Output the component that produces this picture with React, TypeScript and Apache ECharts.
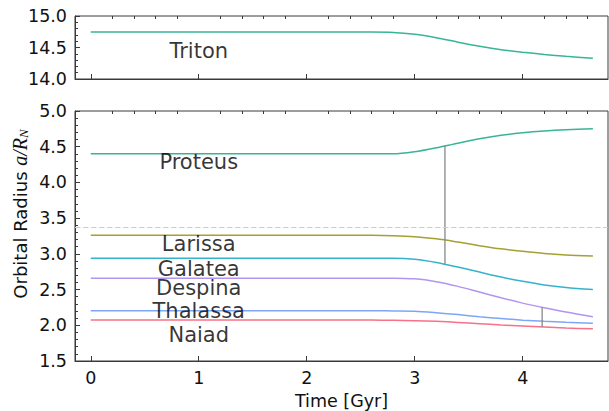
import React, { useEffect, useRef } from 'react';
import * as echarts from 'echarts';

const time = [0, 1, 2, 2.6, 2.8, 3.0, 3.2, 3.4, 3.6, 3.8, 4.0, 4.2, 4.4, 4.65];
const triton = [14.745, 14.745, 14.745, 14.745, 14.74, 14.71, 14.655, 14.585, 14.52, 14.465, 14.425, 14.39, 14.36, 14.33];
const proteus = [4.40, 4.40, 4.40, 4.40, 4.40, 4.43, 4.485, 4.55, 4.61, 4.66, 4.695, 4.72, 4.737, 4.75];
const larissa = [3.26, 3.26, 3.26, 3.26, 3.255, 3.24, 3.21, 3.165, 3.115, 3.07, 3.035, 3.005, 2.985, 2.97];
const galatea = [2.94, 2.94, 2.94, 2.94, 2.94, 2.925, 2.88, 2.815, 2.745, 2.675, 2.615, 2.565, 2.53, 2.50];
const despina = [2.66, 2.66, 2.66, 2.66, 2.66, 2.65, 2.61, 2.545, 2.465, 2.385, 2.31, 2.245, 2.185, 2.12];
const thalassa = [2.205, 2.205, 2.205, 2.205, 2.20, 2.195, 2.175, 2.15, 2.12, 2.095, 2.072, 2.055, 2.042, 2.03];
const naiad = [2.075, 2.075, 2.075, 2.075, 2.07, 2.065, 2.055, 2.04, 2.022, 2.005, 1.99, 1.975, 1.962, 1.95];

const innerMoons = ['Proteus', 'Larissa', 'Galatea', 'Despina', 'Thalassa', 'Naiad'];
const innerValues = [proteus, larissa, galatea, despina, thalassa, naiad];
const innerColors = ['#38b596', '#a4a031', '#37b2cc', '#b394f2', '#7ea6f7', '#f77189'];
const tritonColor = '#38b596';

const labelX = 1.0;
const innerLabelY = [4.29, 3.14, 2.79, 2.52, 2.198, 1.865];
const tritonLabelY = 14.44;

const resonanceA = { t: 3.28, from: 4.51, to: 2.852 };
const resonanceB = { t: 4.18, from: 2.251, to: 1.976 };
const dashedLevel = 3.37;

const xMin = -0.146;
const xMax = 4.79;
const xMajorTicks = [0, 1, 2, 3, 4];
const xMinorTicks = [0.2, 0.4, 0.6, 0.8, 1.2, 1.4, 1.6, 1.8, 2.2, 2.4, 2.6, 2.8, 3.2, 3.4, 3.6, 3.8, 4.2, 4.4, 4.6];

const FONT = 'DejaVu Sans';
const AX = '#3a3a3a';
const TXT = '#111111';

const zip = (ys: number[]) => time.map((t, i) => [t, ys[i]]);

function xAxes(gridIndex: number, labels: boolean) {
  return [
    {
      type: 'value', gridIndex, min: xMin, max: xMax,
      axisLine: { show: true, onZero: false, lineStyle: { color: AX, width: 1 } },
      axisTick: { show: true, inside: true, length: 5, customValues: xMajorTicks, lineStyle: { color: AX } },
      axisLabel: { show: labels, customValues: xMajorTicks, margin: 8, fontSize: 17.5, color: TXT, fontFamily: FONT },
      splitLine: { show: false },
    },
    {
      type: 'value', gridIndex, min: xMin, max: xMax,
      axisLine: { show: false },
      axisTick: { show: true, inside: true, length: 3, customValues: xMinorTicks, lineStyle: { color: AX } },
      axisLabel: { show: false },
      splitLine: { show: false },
    },
  ];
}

function yAxis(gridIndex: number, min: number, max: number) {
  return {
    type: 'value', gridIndex, min, max, interval: 0.5,
    axisLine: { show: true, onZero: false, lineStyle: { color: AX, width: 1 } },
    axisTick: { show: true, inside: true, length: 5, lineStyle: { color: AX } },
    minorTick: { show: true, splitNumber: 5, length: 3, lineStyle: { color: AX } },
    axisLabel: { margin: 8, fontSize: 17.5, color: TXT, fontFamily: FONT, formatter: (v: number) => v.toFixed(1) },
    splitLine: { show: false },
  };
}

const labelSeries = (xi: number, yi: number, names: string[], ys: number[]) => ({
  type: 'scatter', xAxisIndex: xi, yAxisIndex: yi, silent: true, z: 5,
  symbolSize: 1, itemStyle: { color: 'rgba(0,0,0,0)' },
  label: {
    show: true, position: 'inside', formatter: '{b}', fontSize: 21, lineHeight: 18, color: '#000000',
    fontFamily: FONT, textBorderWidth: 0, textBorderColor: 'transparent',
  },
  data: names.map((n, i) => ({ name: n, value: [labelX, ys[i]] })),
});

const option: any = {
  animation: false,
  backgroundColor: '#ffffff',
  grid: [
    { left: 75, right: 1, top: 16, height: 63, show: true, borderColor: AX, borderWidth: 1, backgroundColor: 'transparent' },
    { left: 75, right: 1, top: 111, height: 250, show: true, borderColor: AX, borderWidth: 1, backgroundColor: 'transparent' },
  ],
  xAxis: [...xAxes(0, false), ...xAxes(1, true)],
  yAxis: [yAxis(0, 14, 15), yAxis(1, 1.5, 5)],
  graphic: [
    {
      type: 'text', x: 20, y: 214, rotation: Math.PI / 2,
      style: {
        text: '{n|Orbital Radius }{m|a/R}{s|N}',
        align: 'center', verticalAlign: 'middle', fill: TXT,
        rich: {
          n: { fontSize: 18, fontFamily: FONT, fill: TXT },
          m: { fontSize: 20, fontFamily: 'Liberation Serif', fontStyle: 'italic', fill: TXT },
          s: { fontSize: 13, fontFamily: 'Liberation Serif', fontStyle: 'italic', fill: TXT, verticalAlign: 'bottom' },
        },
      },
    },
    {
      type: 'text', x: 341.5, y: 401,
      style: { text: 'Time [Gyr]', align: 'center', verticalAlign: 'middle', fontSize: 17.5, fontFamily: FONT, fill: TXT },
    },
  ],
  series: [
    {
      type: 'line', name: 'Triton', xAxisIndex: 0, yAxisIndex: 0, data: zip(triton),
      showSymbol: false, symbol: 'none', smooth: 0.3, lineStyle: { color: tritonColor, width: 1.5 }, silent: true,
    },
    ...innerMoons.map((m, i) => ({
      type: 'line', name: m, xAxisIndex: 2, yAxisIndex: 1, data: zip(innerValues[i]),
      showSymbol: false, symbol: 'none', smooth: 0.3, lineStyle: { color: innerColors[i], width: 1.5 }, silent: true,
    })),
    {
      type: 'line', xAxisIndex: 2, yAxisIndex: 1, data: [], silent: true,
      markLine: {
        symbol: 'none', silent: true, label: { show: false },
        lineStyle: { color: '#cccccc', type: [5.5, 2.5], width: 1.2 },
        data: [{ yAxis: dashedLevel }],
      },
    },
    {
      type: 'line', xAxisIndex: 2, yAxisIndex: 1, silent: true, showSymbol: false, symbol: 'none',
      lineStyle: { color: '#888888', width: 1.3 },
      data: [[resonanceA.t, resonanceA.from], [resonanceA.t, resonanceA.to]],
    },
    {
      type: 'line', xAxisIndex: 2, yAxisIndex: 1, silent: true, showSymbol: false, symbol: 'none',
      lineStyle: { color: '#888888', width: 1.3 },
      data: [[resonanceB.t, resonanceB.from], [resonanceB.t, resonanceB.to]],
    },
    labelSeries(0, 0, ['Triton'], [tritonLabelY]),
    labelSeries(2, 1, innerMoons, innerLabelY),
  ],
};

export default function App() {
  const ref = useRef<HTMLDivElement>(null);
  useEffect(() => {
    const chart = echarts.init(ref.current as HTMLDivElement, null, { renderer: 'svg' });
    chart.setOption(option);
    return () => chart.dispose();
  }, []);
  return <div ref={ref} style={{ position: 'absolute', left: 0, top: 0, width: 609, height: 411 }} />;
}
